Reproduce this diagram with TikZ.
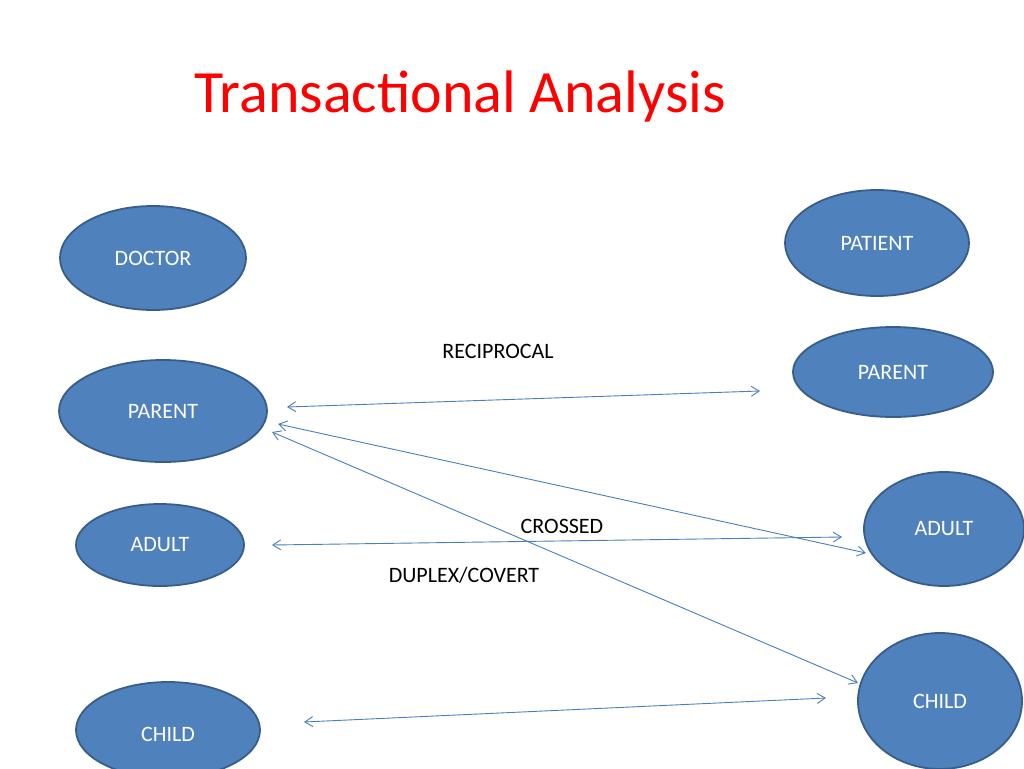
\documentclass[tikz,border=0pt]{standalone}
\usepackage{fontspec}
\setmainfont{Carlito}
\usetikzlibrary{arrows.meta}
\definecolor{fillb}{HTML}{4F81BD}
\definecolor{edgeb}{HTML}{385D8A}
\definecolor{lineb}{HTML}{4A7EBB}
\begin{document}
\begin{tikzpicture}[x=1pt,y=-1pt,
  ov/.style={draw=edgeb,line width=1.8pt,fill=fillb,ellipse,text=white,font=\fontsize{22}{26}\selectfont},
  lab/.style={font=\fontsize{22}{26}\selectfont,text=black},
  conn/.style={draw=lineb,line width=0.9pt,{Straight Barb[length=8pt,width=10pt]}-{Straight Barb[length=8pt,width=10pt]}}]
\useasboundingbox (0,0) rectangle (1024,768);
\clip (0,0) rectangle (1024,768);
\node[text=red,font=\fontsize{60}{70}\selectfont] (title) at (460,97) {Transactional Analysis};
\draw[draw=edgeb,line width=1.8pt,fill=fillb] (153,258) ellipse [x radius=93,y radius=52];
\node[text=white,font=\fontsize{22}{26}\selectfont] (doc) at (153,258) {DOCTOR};
\draw[draw=edgeb,line width=1.8pt,fill=fillb] (877,243) ellipse [x radius=92,y radius=53];
\node[text=white,font=\fontsize{22}{26}\selectfont] (pat) at (877,243) {PATIENT};
\draw[draw=edgeb,line width=1.8pt,fill=fillb] (163,411) ellipse [x radius=104,y radius=51];
\node[text=white,font=\fontsize{22}{26}\selectfont] (lp) at (163,411) {PARENT};
\draw[draw=edgeb,line width=1.8pt,fill=fillb] (893,372) ellipse [x radius=100,y radius=45];
\node[text=white,font=\fontsize{22}{26}\selectfont] (rp) at (893,372) {PARENT};
\draw[draw=edgeb,line width=1.8pt,fill=fillb] (160,545) ellipse [x radius=84,y radius=41];
\node[text=white,font=\fontsize{22}{26}\selectfont] (la) at (160,545) {ADULT};
\draw[draw=edgeb,line width=1.8pt,fill=fillb] (944,529) ellipse [x radius=80,y radius=57];
\node[text=white,font=\fontsize{22}{26}\selectfont] (ra) at (944,529) {ADULT};
\draw[draw=edgeb,line width=1.8pt,fill=fillb] (168,730) ellipse [x radius=92,y radius=48];
\node[text=white,font=\fontsize{22}{26}\selectfont] (lc) at (168,734) {CHILD};
\draw[draw=edgeb,line width=1.8pt,fill=fillb] (940,701) ellipse [x radius=82,y radius=68];
\node[text=white,font=\fontsize{22}{26}\selectfont] (rc) at (940,701) {CHILD};
\node[lab] (rec) at (498,351) {RECIPROCAL};
\node[lab] (cro) at (562,526) {CROSSED};
\node[lab] (dup) at (464,575) {DUPLEX/COVERT};
\coordinate (a1) at (287,407); \coordinate (b1) at (760,391);
\coordinate (a2) at (278,424); \coordinate (b2) at (866,553);
\coordinate (a3) at (272,432); \coordinate (b3) at (858,683);
\coordinate (a4) at (272,545); \coordinate (b4) at (842,537);
\coordinate (a5) at (304,722); \coordinate (b5) at (826,698);
\draw[conn] (a1) -- (b1);
\draw[conn] (a2) -- (b2);
\draw[conn] (a3) -- (b3);
\draw[conn] (a4) -- (b4);
\draw[conn] (a5) -- (b5);
\end{tikzpicture}
\end{document}
